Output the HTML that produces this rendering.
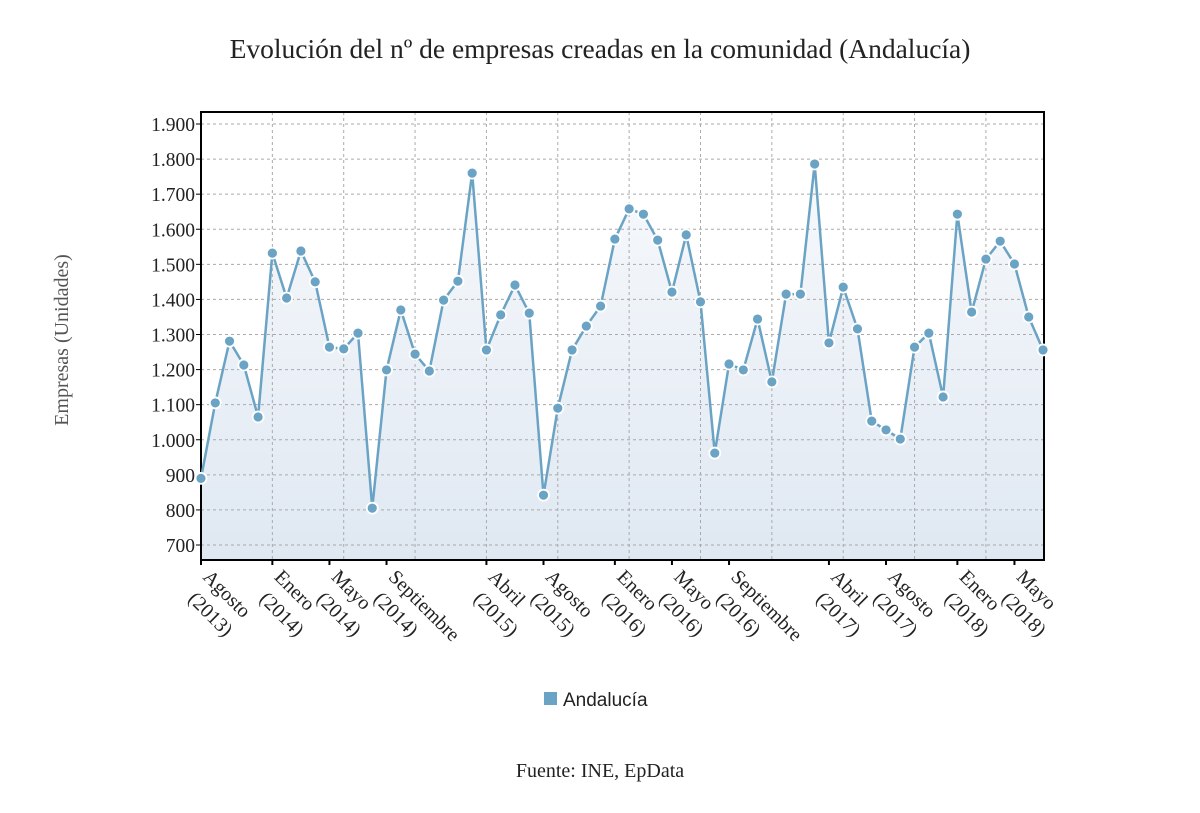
<!DOCTYPE html>
<html><head><meta charset="utf-8"><style>
body{margin:0;background:#fff;}
svg text{font-family:"Liberation Serif",serif;}
</style></head><body>
<svg width="1200" height="808" xmlns="http://www.w3.org/2000/svg">
<defs><linearGradient id="g" x1="0" y1="0" x2="0" y2="1"><stop offset="0" stop-color="#f7f9fc"/><stop offset="1" stop-color="#dfe8f2"/></linearGradient></defs>
<text x="600" y="58" font-size="27.5" text-anchor="middle" fill="#222">Evolución del nº de empresas creadas en la comunidad (Andalucía)</text>
<text transform="translate(68,340) rotate(-90)" font-size="20" text-anchor="middle" fill="#555">Empresas (Unidades)</text>
<g id="plot"></g>
<rect x="544" y="692" width="13" height="13" fill="#6aa3c4"/>
<text x="563" y="706" font-size="19" fill="#222" style="font-family:'Liberation Sans',sans-serif">Andalucía</text>
<text x="600" y="777" font-size="20" text-anchor="middle" fill="#222">Fuente: INE, EpData</text>
</svg>
<script>
const values=[890,1105,1281,1213,1065,1532,1404,1538,1450,1264,1259,1304,805,1199,1370,1244,1196,1398,1452,1760,1256,1356,1441,1361,842,1090,1256,1324,1381,1572,1658,1643,1569,1421,1584,1393,962,1216,1199,1344,1165,1415,1415,1786,1276,1435,1316,1053,1028,1002,1264,1304,1122,1643,1364,1515,1566,1501,1350,1256];
const yTicks=[700,800,900,1000,1100,1200,1300,1400,1500,1600,1700,1800,1900];
const labelIdx=[0,5,9,13,20,24,29,33,37,44,48,53,57];
const labelMonths=["Agosto","Enero","Mayo","Septiembre","Abril","Agosto","Enero","Mayo","Septiembre","Abril","Agosto","Enero","Mayo"];
const labelYears=["(2013)","(2014)","(2014)","(2014)","(2015)","(2015)","(2016)","(2016)","(2016)","(2017)","(2017)","(2018)","(2018)"];
const X0=201,X1=1043,YT=112,YB=560;
const xs=i=>X0+i*(X1-X0)/(values.length-1);
const ys=v=>545-(v-700)*(545-124)/1200;
const NS="http://www.w3.org/2000/svg";
const g=document.getElementById('plot');
function mk(t,a){const e=document.createElementNS(NS,t);for(const k in a)e.setAttribute(k,a[k]);g.appendChild(e);return e;}
let area=`M${xs(0)},${YB} `+values.map((v,i)=>`L${xs(i)},${ys(v)}`).join(' ')+` L${xs(values.length-1)},${YB} Z`;
let a=mk('path',{d:area,fill:'url(#g)'});


yTicks.forEach(t=>{const y=ys(t);
 let l=mk('line',{x1:X0,x2:1044,y1:y,y2:y,stroke:'#aaa','stroke-dasharray':'3,3'});
 
 
 mk('line',{x1:X0-5,x2:X0,y1:y,y2:y,stroke:'#000'});
 let tx=mk('text',{x:X0-6,y:y+7,'font-size':19.5,'text-anchor':'end',fill:'#222'});
 tx.textContent=t.toLocaleString('de-DE');
 
 
});
for(let i=5;i<values.length;i+=5){const x=xs(i);
 let l=mk('line',{x1:x,x2:x,y1:YT,y2:YB,stroke:'#aaa','stroke-dasharray':'3,3'});
 
 
}
mk('rect',{x:X0,y:YT,width:1044-X0,height:YB-YT,fill:'none',stroke:'#000','stroke-width':2});
labelIdx.forEach((idx,k)=>{const x=xs(idx);
 mk('line',{x1:x,x2:x,y1:YB,y2:YB+5,stroke:'#000','stroke-width':2});
 let tx=mk('text',{transform:`translate(${x+1},${YB+18}) rotate(45)`,'font-size':20,fill:'#222'});
 
 
 let s1=document.createElementNS(NS,'tspan');s1.setAttribute('x',0);s1.setAttribute('y',0);s1.textContent=labelMonths[k];tx.appendChild(s1);
 let s2=document.createElementNS(NS,'tspan');s2.setAttribute('x',5);s2.setAttribute('y',26);s2.textContent=labelYears[k];tx.appendChild(s2);
});
let line=mk('polyline',{points:values.map((v,i)=>`${xs(i)},${ys(v)}`).join(' '),fill:'none',stroke:'#6aa3c4','stroke-width':2.5});


values.forEach((v,i)=>{let c=mk('circle',{cx:xs(i),cy:ys(v),r:5.5,fill:'#6aa3c4',stroke:'#fff','stroke-width':1.8});
 
 
});
</script>
</body></html>
